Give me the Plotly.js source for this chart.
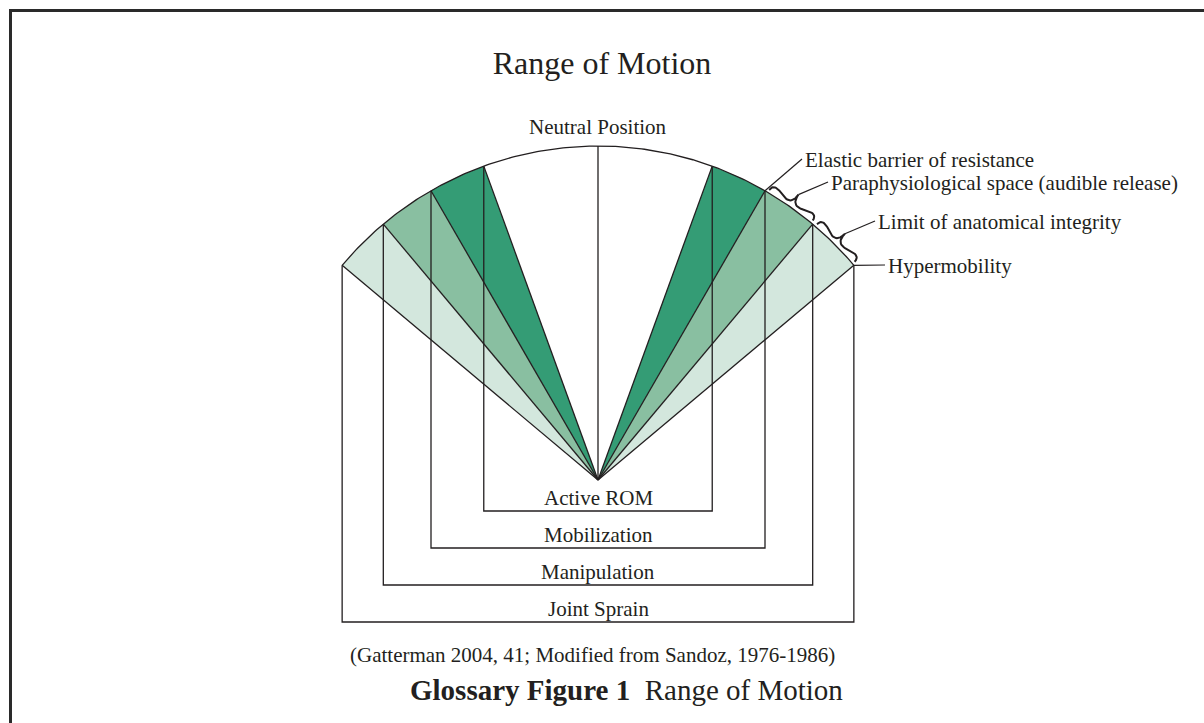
<!DOCTYPE html>
<html>
<head>
<meta charset="utf-8">
<script src="https://cdn.plot.ly/plotly-3.0.1.min.js"></script>
<style>
  html, body { margin: 0; padding: 0; background: #ffffff; }
  #chart { width: 1204px; height: 723px; }
</style>
</head>
<body>
<div id="chart"></div>
<script>
// ---------------- DATA ----------------
// Boundary angles (degrees from the neutral position) on each side
const boundaryAngles = [20, 30, 40, 50];
// Range brackets, from innermost to outermost
const rangeNames = ["Active ROM", "Mobilization", "Manipulation", "Joint Sprain"];
// Zones between consecutive boundary angles
const zoneNames = ["Paraphysiological space", "Anatomical limit zone", "Hypermobility zone"];
const zoneColors = ["#349c75", "#89bfa1", "#d3e7dd"];
// Barrier labels on the right side
const barrierLabels = [
  "Elastic barrier of resistance",
  "Paraphysiological space (audible release)",
  "Limit of anatomical integrity",
  "Hypermobility"
];
const neutralLabel = "Neutral Position";
const titleText = "Range of Motion";
const citationText = "(Gatterman 2004, 41; Modified from Sandoz, 1976-1986)";
const captionBold = "Glossary Figure 1";
const captionText = "Range of Motion";

// ---------------- GEOMETRY / STYLE ----------------
const R = 334;                 // radius of the arc (axis units = px)
const bracketBottoms = [-31, -68, -105, -142];
const ink = "#231f20";
const serif = "Liberation Serif, Times New Roman, serif";
const deg = Math.PI / 180;

function arcPt(a) { return [R * Math.sin(a * deg), R * Math.cos(a * deg)]; }
function arcPts(a0, a1) {
  const xs = [], ys = [];
  const n = Math.max(2, Math.ceil(Math.abs(a1 - a0) / 0.5));
  for (let i = 0; i <= n; i++) {
    const a = a0 + (a1 - a0) * i / n;
    const p = arcPt(a); xs.push(p[0]); ys.push(p[1]);
  }
  return [xs, ys];
}

const traces = [];
// zone fills, both sides
for (let i = 0; i < zoneColors.length; i++) {
  [1, -1].forEach(s => {
    const [xs, ys] = arcPts(s * boundaryAngles[i], s * boundaryAngles[i + 1]);
    traces.push({
      type: "scatter", mode: "lines", name: zoneNames[i],
      x: [0].concat(xs, [0]), y: [0].concat(ys, [0]),
      fill: "toself", fillcolor: zoneColors[i],
      line: { width: 0, color: zoneColors[i] }, hoverinfo: "skip", showlegend: false
    });
  });
}
// outer arc
const amax = boundaryAngles[boundaryAngles.length - 1];
const [axs, ays] = arcPts(-amax, amax);
traces.push({ type: "scatter", mode: "lines", x: axs, y: ays,
  line: { color: ink, width: 1.3 }, hoverinfo: "skip", showlegend: false });
// neutral line
traces.push({ type: "scatter", mode: "lines", x: [0, 0], y: [0, R],
  line: { color: ink, width: 1.3 }, hoverinfo: "skip", showlegend: false });
// radial lines
boundaryAngles.forEach(a => {
  [1, -1].forEach(s => {
    const p = arcPt(s * a);
    traces.push({ type: "scatter", mode: "lines", x: [0, p[0]], y: [0, p[1]],
      line: { color: ink, width: 1.3 }, hoverinfo: "skip", showlegend: false });
  });
});
// range brackets
boundaryAngles.forEach((a, i) => {
  const pr = arcPt(a), pl = arcPt(-a);
  const yb = bracketBottoms[i];
  traces.push({ type: "scatter", mode: "lines", name: rangeNames[i],
    x: [pl[0], pl[0], pr[0], pr[0]], y: [pl[1], yb, yb, pr[1]],
    line: { color: ink, width: 1.3 }, hoverinfo: "skip", showlegend: false });
});

// curly braces between boundary points (right side)
function brace(a0, a1, w, q, off) {
  const p1 = arcPt(a0), p2 = arcPt(a1);
  let ux = p2[0] - p1[0], uy = p2[1] - p1[1];
  const L0 = Math.hypot(ux, uy); ux /= L0; uy /= L0;
  let nx = uy, ny = -ux;
  const mx = (p1[0] + p2[0]) / 2, my = (p1[1] + p2[1]) / 2;
  if (nx * mx + ny * my < 0) { nx = -nx; ny = -ny; }
  const A = [p1[0] + nx * off + ux * 3, p1[1] + ny * off + uy * 3];
  const B = [p2[0] + nx * off - ux * 2, p2[1] + ny * off - uy * 2];
  const L = L0 - 5;
  const P = (t, h) => [A[0] + ux * L * t + nx * h, A[1] + uy * L * t + ny * h];
  const tip = P(0.5, w);
  function quad(s, c, e, xs, ys) {
    for (let k = 0; k <= 16; k++) {
      const t = k / 16, m = 1 - t;
      xs.push(m * m * s[0] + 2 * m * t * c[0] + t * t * e[0]);
      ys.push(m * m * s[1] + 2 * m * t * c[1] + t * t * e[1]);
    }
  }
  const xs = [], ys = [];
  const c1 = P(0, q * w), e1 = P(0.25, (1 - q) * w);
  const c2 = [2 * e1[0] - c1[0], 2 * e1[1] - c1[1]];
  const c3 = P(1, q * w), e3 = P(0.75, (1 - q) * w);
  const c4 = [2 * e3[0] - c3[0], 2 * e3[1] - c3[1]];
  quad(A, c1, e1, xs, ys); quad(e1, c2, tip, xs, ys);
  const xs2 = [], ys2 = [];
  quad(B, c3, e3, xs2, ys2); quad(e3, c4, tip, xs2, ys2);
  return { xs: xs.concat(xs2.reverse()), ys: ys.concat(ys2.reverse()), tip: tip };
}
const braces = [brace(boundaryAngles[1], boundaryAngles[2], 13, 0.7, 3),
                brace(boundaryAngles[2], boundaryAngles[3], 13, 0.7, 3)];
braces.forEach(b => traces.push({ type: "scatter", mode: "lines", x: b.xs, y: b.ys,
  line: { color: ink, width: 2 }, hoverinfo: "skip", showlegend: false }));

// label anchor positions (left-middle of text) and leader start points
const labelPos = [[206, 320], [232, 297], [279, 258], [289, 214]];
const leaderStarts = [arcPt(boundaryAngles[1]), braces[0].tip, braces[1].tip, arcPt(boundaryAngles[3])];
leaderStarts.forEach((p, i) => {
  const e = labelPos[i];
  traces.push({ type: "scatter", mode: "lines", x: [p[0], e[0] - 2], y: [p[1], e[1] + 1],
    line: { color: ink, width: 1.2 }, hoverinfo: "skip", showlegend: false });
});

// ---------------- ANNOTATIONS ----------------
const annotations = [];
const tf = (size) => ({ family: serif, size: size, color: ink });
annotations.push({ x: 0, y: 353, xref: "x", yref: "y", text: neutralLabel, showarrow: false,
  xanchor: "center", yanchor: "middle", font: tf(21), borderpad: 0 });
rangeNames.forEach((t, i) => annotations.push({ x: 0, y: bracketBottoms[i] + 13, xref: "x", yref: "y",
  text: t, showarrow: false, xanchor: "center", yanchor: "middle", font: tf(21), borderpad: 0 }));
barrierLabels.forEach((t, i) => annotations.push({ x: labelPos[i][0], y: labelPos[i][1], xref: "x", yref: "y",
  text: t, showarrow: false, xanchor: "left", yanchor: "middle", font: tf(21), borderpad: 0 }));
annotations.push({ x: -6, y: -175, xref: "x", yref: "y", text: citationText, showarrow: false,
  xanchor: "center", yanchor: "middle", font: tf(21), borderpad: 0 });
annotations.push({ x: 28, y: -210, xref: "x", yref: "y",
  text: "<b>" + captionBold + "</b>&nbsp;&nbsp;" + captionText, showarrow: false,
  xanchor: "center", yanchor: "middle", font: tf(29), borderpad: 0 });

const layout = {
  width: 1204, height: 723,
  margin: { l: 0, r: 0, t: 0, b: 0, pad: 0 },
  paper_bgcolor: "#ffffff", plot_bgcolor: "#ffffff",
  title: { text: titleText, font: { family: serif, size: 32, color: ink },
           x: 0.5, xanchor: "center", y: 1 - 63 / 723, yanchor: "middle", yref: "paper" },
  xaxis: { range: [-598, 606], visible: false, fixedrange: true },
  yaxis: { range: [-243, 480], visible: false, fixedrange: true },
  showlegend: false,
  annotations: annotations,
  shapes: [
    { type: "line", xref: "paper", yref: "paper", x0: 9 / 1204, x1: 1, y0: 1 - 10.5 / 723, y1: 1 - 10.5 / 723,
      line: { color: "#2a2a2a", width: 3 } },
    { type: "line", xref: "paper", yref: "paper", x0: 10.5 / 1204, x1: 10.5 / 1204, y0: 0, y1: 1 - 9 / 723,
      line: { color: "#2a2a2a", width: 3 } }
  ]
};

Plotly.newPlot("chart", traces, layout, { staticPlot: true, displayModeBar: false });
</script>
</body>
</html>
